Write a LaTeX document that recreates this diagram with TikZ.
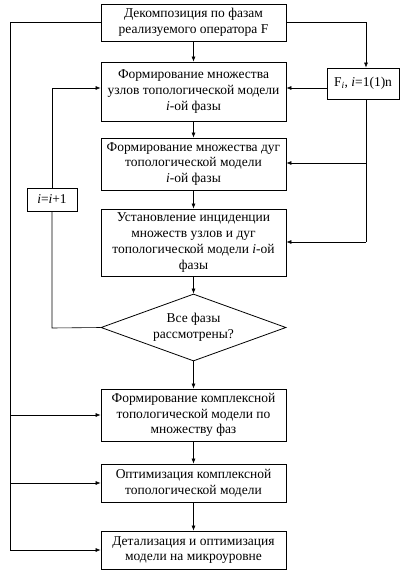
\documentclass[tikz,border=0pt]{standalone}
\usepackage{fontspec}
\setmainfont{Liberation Serif}
\usetikzlibrary{arrows.meta,shapes.geometric,calc}
\begin{document}
\begin{tikzpicture}[x=1pt,y=-1pt,
  font=\fontsize{13.5}{15.8}\selectfont,
  box/.style={draw,line width=0.8pt,minimum width=185pt,align=center,inner sep=0pt},
  sbox/.style={draw,line width=0.8pt,align=center,inner sep=0pt},
  arr/.style={-{Latex[length=5pt,width=4pt]},line width=0.6pt},
  ln/.style={line width=0.6pt}]
\useasboundingbox (0,0) rectangle (407,574);
\node[box,minimum height=37pt] (b1) at (193.5,22.5) {Декомпозиция по фазам\\реализуемого оператора F};
\node[box,minimum height=59pt] (b2) at (193.5,91.5) {Формирование множества\\узлов топологической модели\\\textit{i}-ой фазы};
\node[box,minimum height=52pt] (b3) at (193.5,164) {Формирование множества дуг\\топологической модели\\\textit{i}-ой фазы};
\node[box,minimum height=67pt] (b4) at (193.5,242.5) {Установление инциденции\\множеств узлов и дуг\\топологической модели \textit{i}-ой\\фазы};
\node[draw,line width=0.8pt,diamond,aspect=2.76,minimum width=185pt,minimum height=67pt,inner sep=0pt,align=center] (d) at (193.5,327.5) {Все фазы\\рассмотрены?};
\node[box,minimum height=52pt] (b5) at (193.5,415) {Формирование комплексной\\топологической модели по\\множеству фаз};
\node[box,minimum height=38pt] (b6) at (193.5,483) {Оптимизация комплексной\\топологической модели};
\node[box,minimum height=38pt] (b7) at (193.5,550) {Детализация и оптимизация\\модели на микроуровне};
\node[sbox,minimum width=72pt,minimum height=31pt] (fi) at (363,83.5) {F\textsubscript{\textit{i}}, \textit{i}=1(1)n};
\node[sbox,minimum width=50pt,minimum height=23pt] (inc) at (52,199.5) {\textit{i}=\textit{i}+1};
\coordinate (r1) at (366,22);
\coordinate (r2) at (366,163);
\coordinate (r3) at (366,242);
\coordinate (l1) at (10,22);
\coordinate (l5) at (10,415);
\coordinate (l6) at (10,483);
\coordinate (l7) at (10,550);
\coordinate (k1) at (52,328);
\coordinate (k2) at (52,88);
% main flow
\draw[arr] (b1.south) -- (b2.north);
\draw[arr] (b2.south) -- (b3.north);
\draw[arr] (b3.south) -- (b4.north);
\draw[arr] (b4.south) -- (d.north);
\draw[arr] (d.south) -- (b5.north);
\draw[arr] (b5.south) -- (b6.north);
\draw[arr] (b6.south) -- (b7.north);
% right side
\draw[arr] (b1.east |- r1) -- (r1) -- (fi.north -| r1);
\draw[arr] (fi.west |- k2) -- (b2.east |- k2);
\draw[ln] (fi.south -| r1) -- (r3);
\draw[arr] (r2) -- (b3.east |- r2);
\draw[arr] (r3) -- (b4.east |- r3);
% left side
\draw[ln] (b1.west |- l1) -- (l1) -- (l7);
\draw[arr] (l5) -- (b5.west |- l5);
\draw[arr] (l6) -- (b6.west |- l6);
\draw[arr] (l7) -- (b7.west |- l7);
% loop
\draw[ln] (d.west) -- (k1) -- (inc.south);
\draw[arr] (inc.north) -- (k2) -- (b2.west |- k2);
\end{tikzpicture}
\end{document}
